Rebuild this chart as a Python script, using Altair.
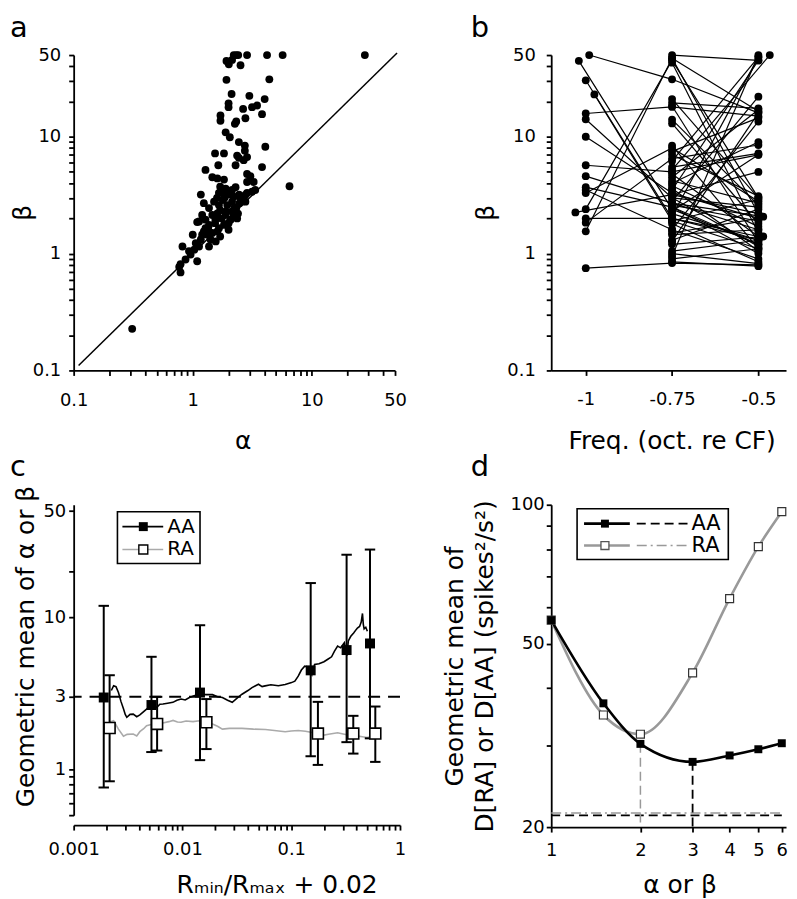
import altair as alt
import pandas as pd

FONT = "DejaVu Sans"
GRAY = "#999999"

# ---------------- Panel a : beta vs alpha ----------------
a_alpha = [0.31, 27.9, 6.5,
           2.21, 2.32, 2.41, 2.86, 4.21, 5.69, 1.92, 2.01, 2.14, 2.52,
           1.92, 4.4, 2.12, 2.99, 4.02, 2.0, 2.0, 2.65, 3.15, 3.47, 3.82, 1.71, 1.71, 2.32, 2.77, 2.26,
           1.89, 2.05, 2.44, 2.74, 2.74, 4.07, 1.54, 1.83, 2.36, 2.44, 2.86, 2.68, 1.64, 2.29, 3.82,
           1.28, 2.86, 3.05, 1.46, 1.61, 1.83, 2.86, 3.25, 2.29, 3.35, 2.86, 2.69, 1.17, 1.66, 1.83, 2.0,
           1.24, 1.37, 1.51, 1.66, 1.79, 1.95, 2.14, 2.32, 2.47, 1.46, 1.61, 1.75, 1.89, 2.08, 2.21,
           1.28, 1.2, 1.37, 1.54, 1.66, 1.83, 2.0, 1.13, 1.24, 1.33, 1.46, 1.41, 1.61, 1.17, 1.06,
           1.13, 1.0, 1.03, 0.93, 0.96, 0.87, 0.82, 0.79, 0.77, 0.79, 1.09, 1.09, 1.28, 2.14, 2.36,
           2.0, 1.7, 1.56, 1.2, 1.37, 2.77, 3.15, 2.77, 2.52, 1.89, 2.21, 1.7, 2.14,
           1.9, 2.25, 1.55, 1.7, 2.4, 1.35, 1.85, 1.6, 2.45]
a_beta = [0.227, 50, 3.77,
          50, 50, 50, 50, 50, 50, 44.5, 41.7, 45.4, 40.9,
          30.7, 31, 23.2, 22.4, 21.0, 19.3, 17.9, 17.3, 17.9, 18.5, 15.6, 15.2, 13.7, 13.5, 14.4, 12.9,
          10.9, 9.9, 9.0, 8.4, 7.6, 8.2, 7.2, 7.2, 6.9, 6.6, 6.7, 6.3, 5.7, 5.7, 5.5,
          5.2, 4.8, 4.6, 4.5, 4.4, 4.3, 4.1, 4.1, 3.7, 3.5, 3.3, 2.8, 3.2, 3.3, 3.4, 3.2,
          2.7, 2.45, 2.78, 2.6, 2.87, 2.6, 2.78, 2.45, 2.7, 2.14, 2.21, 2.0, 2.14, 1.95, 2.14,
          1.95, 2.14, 1.76, 1.82, 1.65, 1.76, 1.82, 1.88, 1.55, 1.45, 1.5, 1.32, 1.55, 1.32, 1.23,
          1.15, 1.45, 1.08, 1.05, 0.98, 0.89, 1.15, 0.81, 0.77, 0.69, 0.86, 1.86, 1.65, 2.29, 2.0,
          1.6, 1.4, 1.27, 1.45, 1.15, 3.17, 3.38, 2.78, 2.97, 3.6, 3.07, 3.73, 3.5,
          2.3, 2.5, 1.95, 2.35, 2.2, 1.6, 3.0, 3.0, 3.2]
a_diag = [0.11, 52.0]

# ---------------- Panel b : beta vs frequency ----------------
b_freqs = [-1.0, -0.75, -0.5]
b_neurons = [
    [50, 31, 16], [44.6, 2.4, 1.2], [30.4, 2.0, 1.4], [23, 1.9, 1.1], [15.8, 18, 15],
    [14.1, 3.0, 2.5], [10, 3.3, 2.0], [5.7, 5.0, 7.0], [4.6, 2.7, 1.6], [3.7, 2.5, 1.2],
    [3.5, 1.6, 0.9], [3.3, 8.0, 2.8], [2.4, 45, 3.0], [2.25, 3.2, 2.2], [2.0, 2.0, 1.3],
    [1.84, 6.5, 8.5], [1.55, 47, 2.2], [0.75, 0.83, 0.8],
    [None, 50, 45], [None, 47, 16.5], [None, 43, 1.5], [None, 21, 3.0], [None, 19.5, 17.5],
    [None, 18.3, 1.25], [None, 14, 2.6], [None, 13, 1.8], [None, 8.4, 1.1], [None, 7.5, 14.5],
    [None, 7, 3.1], [None, 6.2, 48], [None, 5.5, 7.2], [None, 5.2, 50], [None, 4.8, 1.4],
    [None, 4.5, 17], [None, 4.2, 2.7], [None, 4.0, 9], [None, 3.8, 1.7], [None, 3.5, 45],
    [None, 3.2, 5.0], [None, 3.0, 1.15], [None, 2.8, 22], [None, 2.7, 2.07], [None, 2.5, 1.0],
    [None, 2.3, 7.0], [None, 2.2, 1.3], [None, 2.1, 48], [None, 1.9, 2.9], [None, 1.8, 0.85],
    [None, 1.6, 13.5], [None, 1.45, 1.6], [None, 1.3, 2.4], [None, 1.27, 16], [None, 1.05, 1.3],
    [None, 1.0, 0.82], [None, 0.95, 50], [None, 0.9, 1.1], [None, 0.85, 0.78], [None, 1.5, 2.0],
    [None, 2.6, 1.9], [None, 3.6, 1.05], [None, 1.2, 1.4],
]
# small horizontal offsets of individual points (neuron index, position index, offset)
b_offsets = [(0, 0, 0.01), (1, 0, -0.02), (3, 0, 0.025), (13, 0, -0.03),
             (31, 2, 0.033), (41, 2, 0.014), (60, 2, 0.014)]

# ---------------- Panel c : geometric means vs Rmin/Rmax ----------------
c_aa_line_x = [0.00222, 0.00233, 0.00245, 0.00258, 0.00272, 0.00287, 0.00298, 0.00308, 0.0033, 0.00353,
               0.0038, 0.00406, 0.0044, 0.00468, 0.005, 0.00537, 0.0058, 0.0062, 0.00662, 0.0073,
               0.00817, 0.0089, 0.00972, 0.0106, 0.0116, 0.0128, 0.0143, 0.0165, 0.0189, 0.021,
               0.0233, 0.026, 0.0287, 0.032, 0.0353, 0.04, 0.0436, 0.047, 0.05, 0.054, 0.0576,
               0.065, 0.0762, 0.088, 0.1007, 0.108, 0.116, 0.124, 0.133, 0.145, 0.155, 0.164, 0.18,
               0.2, 0.217, 0.235, 0.25, 0.267, 0.285, 0.308, 0.325, 0.335, 0.353, 0.375, 0.395,
               0.406, 0.425, 0.44, 0.452, 0.46, 0.468, 0.485, 0.501]
c_aa_line_y = [3.3, 3.55, 3.5, 3.2, 2.8, 2.5, 2.3, 2.2, 2.3, 2.31,
               2.22, 2.28, 2.4, 2.49, 2.58, 2.62, 2.55, 2.68, 2.69, 2.72,
               2.76, 2.85, 2.9, 2.86, 2.97, 3.05, 3.12, 3.1, 3.1, 3.0,
               2.97, 2.85, 2.76, 2.95, 3.12, 3.3, 3.45, 3.55, 3.63, 3.5, 3.54,
               3.6, 3.55, 3.62, 3.72, 3.8, 4.1, 4.5, 4.77, 4.7, 4.2, 4.9, 4.95,
               5.1, 5.3, 5.5, 6.0, 6.46, 6.3, 6.8, 5.6, 7.0, 7.5, 7.9, 8.3,
               8.5, 8.7, 9.3, 10.6, 9.0, 8.4, 8.6, 8.1]
c_ra_line_x = [0.00215, 0.00233, 0.00258, 0.00287, 0.0031, 0.00353, 0.0038, 0.00406, 0.0044, 0.00468,
               0.00537, 0.0066, 0.0075, 0.0082, 0.009, 0.0097, 0.0108, 0.0125, 0.0143, 0.0165,
               0.0189, 0.021, 0.0233, 0.027, 0.0353, 0.045, 0.058, 0.07, 0.088, 0.1, 0.116,
               0.135, 0.16, 0.2, 0.22, 0.267, 0.3, 0.353, 0.4, 0.45, 0.5, 0.55]
c_ra_line_y = [2.05, 2.09, 1.84, 1.65, 1.7, 1.71, 1.66, 1.77, 1.85, 1.94,
               1.99, 2.02, 2.06, 2.1, 2.05, 2.04, 2.08, 2.06, 2.09, 2.03,
               1.99, 1.92, 1.84, 1.86, 1.86, 1.84, 1.83, 1.8, 1.77, 1.79, 1.8,
               1.78, 1.74, 1.68, 1.7, 1.74, 1.71, 1.67, 1.66, 1.64, 1.62, 1.65]
c_aa_x = [0.00189, 0.00519, 0.0145, 0.151, 0.323, 0.53]
c_aa_y = [2.97, 2.65, 3.2, 4.48, 6.09, 6.73]
c_aa_lo = [0.76, 1.30, 1.15, 1.22, 1.51, 1.6]
c_aa_hi = [11.9, 5.5, 8.87, 16.8, 25.8, 27.9]
c_ra_x = [0.00214, 0.00585, 0.0166, 0.176, 0.372, 0.593]
c_ra_y = [1.87, 1.99, 2.04, 1.72, 1.72, 1.72]
c_ra_lo = [0.835, 1.33, 1.36, 1.07, 1.27, 1.12]
c_ra_hi = [4.16, 3.0, 2.9, 2.78, 2.25, 2.59]
c_ref = 3.0
c_legend = ["AA", "RA"]

# ---------------- Panel d : geometric mean of D vs alpha/beta ----------------
d_x = [1, 1.5, 2, 3, 4, 5, 6]
d_aa = [56.2, 37.1, 30.3, 27.7, 28.6, 29.5, 30.4]
d_ra = [56.2, 35.0, 31.8, 43.2, 62.6, 81.1, 96.6]
d_min_ra_x, d_min_ra_top = 2, 30.3
d_min_aa_x, d_min_aa_top = 3, 27.7
d_floor_aa = 21.2
d_floor_ra = 21.45
d_floor_x = [1, 6]
d_legend = ["AA", "RA"]


def log_ticks(exps, last):
    out = [round(m * 10.0 ** e, 12) for e in exps for m in range(1, 10)]
    return out + last


def lbl_expr(vals, texts):
    parts = [f"datum.value == {v} ? '{t}'" for v, t in zip(vals, texts)]
    return " : ".join(parts) + " : ''"


def axis(values, lab_vals, lab_txt, title, tx, ty, pad, angle=0, **kw):
    return alt.Axis(values=values, labelExpr=lbl_expr(lab_vals, lab_txt), title=title,
                    titleX=tx, titleY=ty, titleAngle=angle, titleAlign="center",
                    titleBaseline="middle", labelPadding=pad, labelOverlap=False,
                    labelFlush=False, grid=False, **kw)


def qscale(domain, stype="log"):
    return alt.Scale(type=stype, domain=domain, nice=False, zero=False)


def letter(ch, x, y):
    return alt.Chart(alt.Data(values=[{}])).mark_text(
        text=ch, align="left", baseline="alphabetic", fontSize=29, font=FONT, color="black"
    ).encode(x=alt.value(x), y=alt.value(y))


one = alt.Data(values=[{}])

# ----- panel a -----
ab_ticks = log_ticks([-1, 0], [10, 20, 30, 40, 50])
ab_lv = [0.1, 1, 10, 50]
ab_lt = ["0.1", "1", "10", "50"]
ax_a_x = axis(ab_ticks, ab_lv, ab_lt, "α", 170, 70, 16)
ax_a_y = axis(ab_ticks, ab_lv, ab_lt, "β", -51, 158, 8, angle=270)
Xa = lambda f: alt.X(f, type="quantitative", scale=qscale([0.1, 50]), axis=ax_a_x)
Ya = lambda f: alt.Y(f, type="quantitative", scale=qscale([0.1, 50]), axis=ax_a_y)

df_a = pd.DataFrame({"x": a_alpha, "y": a_beta})
df_diag = pd.DataFrame({"x": a_diag, "y": a_diag})
pa = alt.layer(
    alt.Chart(df_diag).mark_line(color="black", strokeWidth=1.5).encode(x=Xa("x"), y=Ya("y")),
    alt.Chart(df_a).mark_circle(size=62, color="black", opacity=1).encode(x=Xa("x"), y=Ya("y")),
    letter("a", -64, -18),
).properties(width=323, height=317)

# ----- panel b -----
rows = []
for i, vals in enumerate(b_neurons):
    for j, v in enumerate(vals):
        if v is None:
            continue
        xv = b_freqs[j]
        for (ni, pj, off) in b_offsets:
            if ni == i and pj == j:
                xv += off
        rows.append({"n": i, "x": xv, "y": v})
df_b = pd.DataFrame(rows)
ax_b_x = axis([-1, -0.75, -0.5], [-1, -0.75, -0.5], ["-1", "-0.75", "-0.5"],
              "Freq. (oct. re CF)", 121, 70, 15)
ax_b_y = axis(ab_ticks, ab_lv, ab_lt, "β", -66, 158, 11, angle=270)
Xb = alt.X("x", type="quantitative", scale=qscale([-1.1, -0.42], "linear"), axis=ax_b_x)
Yb = alt.Y("y", type="quantitative", scale=qscale([0.1, 50]), axis=ax_b_y)
pb = alt.layer(
    alt.Chart(df_b).mark_line(color="black", strokeWidth=1.2).encode(
        x=Xb, y=Yb, detail="n:N", order="x:Q"),
    alt.Chart(df_b).mark_circle(size=62, color="black", opacity=1).encode(x=Xb, y=Yb),
    letter("b", -81, -18),
).properties(width=236, height=317)

# ----- panel c -----
c_xt = log_ticks([-3, -2, -1], [1])
c_yt = [0.5, 0.6, 0.7, 0.8, 0.9, 1, 3, 10, 20, 50]
ax_c_x = axis(c_xt, [0.001, 0.01, 0.1, 1], ["0.001", "0.01", "0.1", "1"],
              "Rₘᵢₙ/Rₘₐₓ + 0.02", 204, 60, 11, offset=10)
ax_c_y = axis(c_yt, [1, 3, 10, 50], ["1", "3", "10", "50"],
              "Geometric mean of α or β", -48, 142, 3, angle=270)
Xc = lambda f: alt.X(f, type="quantitative", scale=qscale([0.001, 1]), axis=ax_c_x)
Yc = lambda f: alt.Y(f, type="quantitative", scale=qscale([0.5, 55]), axis=ax_c_y)

df_c_aal = pd.DataFrame({"x": c_aa_line_x, "y": c_aa_line_y})
df_c_ral = pd.DataFrame({"x": c_ra_line_x, "y": c_ra_line_y})
df_c_aa = pd.DataFrame({"x": c_aa_x, "y": c_aa_y, "lo": c_aa_lo, "hi": c_aa_hi})
df_c_ra = pd.DataFrame({"x": c_ra_x, "y": c_ra_y, "lo": c_ra_lo, "hi": c_ra_hi})
df_c_ref = pd.DataFrame({"y": [c_ref]})
cap = "M -1 0 L 1 0"

pc = alt.layer(
    alt.Chart(df_c_ral).mark_line(color="#aaaaaa", strokeWidth=1.6).encode(x=Xc("x"), y=Yc("y")),
    alt.Chart(df_c_aal).mark_line(color="black", strokeWidth=1.6).encode(x=Xc("x"), y=Yc("y")),
    alt.Chart(df_c_ref).mark_rule(color="black", strokeWidth=2, strokeDash=[12, 8]).encode(y=Yc("y")),
    alt.Chart(df_c_aa).mark_rule(color="black", strokeWidth=2).encode(x=Xc("x"), y=Yc("lo"), y2="hi"),
    alt.Chart(df_c_aa).mark_point(shape=cap, size=110, color="black", strokeWidth=2, opacity=1).encode(x=Xc("x"), y=Yc("lo")),
    alt.Chart(df_c_aa).mark_point(shape=cap, size=110, color="black", strokeWidth=2, opacity=1).encode(x=Xc("x"), y=Yc("hi")),
    alt.Chart(df_c_ra).mark_rule(color="black", strokeWidth=2).encode(x=Xc("x"), y=Yc("lo"), y2="hi"),
    alt.Chart(df_c_ra).mark_point(shape=cap, size=110, color="black", strokeWidth=2, opacity=1).encode(x=Xc("x"), y=Yc("lo")),
    alt.Chart(df_c_ra).mark_point(shape=cap, size=110, color="black", strokeWidth=2, opacity=1).encode(x=Xc("x"), y=Yc("hi")),
    alt.Chart(df_c_aa).mark_square(size=100, color="black", opacity=1).encode(x=Xc("x"), y=Yc("y")),
    alt.Chart(df_c_ra).mark_square(size=121, fill="white", stroke="black", strokeWidth=1.6, opacity=1).encode(x=Xc("x"), y=Yc("y")),
    # legend
    alt.Chart(one).mark_rect(fill="white", stroke="black", strokeWidth=1.6).encode(
        x=alt.value(44), x2=alt.value(127), y=alt.value(7), y2=alt.value(59)),
    alt.Chart(one).mark_rule(color="black", strokeWidth=1.6).encode(x=alt.value(49), x2=alt.value(90), y=alt.value(22)),
    alt.Chart(one).mark_rule(color="#aaaaaa", strokeWidth=1.6).encode(x=alt.value(49), x2=alt.value(90), y=alt.value(45)),
    alt.Chart(one).mark_square(size=81, color="black", opacity=1).encode(x=alt.value(70), y=alt.value(22)),
    alt.Chart(one).mark_square(size=81, fill="white", stroke="black", strokeWidth=1.4, opacity=1).encode(x=alt.value(70), y=alt.value(45)),
    alt.Chart(one).mark_text(text=c_legend[0], align="left", baseline="middle", fontSize=20, font=FONT).encode(x=alt.value(94), y=alt.value(22)),
    alt.Chart(one).mark_text(text=c_legend[1], align="left", baseline="middle", fontSize=20, font=FONT).encode(x=alt.value(94), y=alt.value(45)),
    letter("c", -64, -29),
).properties(width=328, height=312)

# ----- panel d -----
d_xt = [1, 2, 3, 4, 5, 6]
d_yt = [20, 30, 40, 50, 60, 70, 80, 90, 100]
ax_d_x = axis(d_xt, d_xt, [str(v) for v in d_xt], "α  or β", 129, 58, 10)
ax_d_y = axis(d_yt, [20, 50, 100], ["20", "50", "100"],
              ["Geometric mean of", "D[RA] or D[AA] (spikes²/s²)"], -97, 162, 2, angle=270,
              titleLineHeight=30)
Xd = lambda f: alt.X(f, type="quantitative", scale=qscale([1, 6.2]), axis=ax_d_x)
Yd = lambda f: alt.Y(f, type="quantitative", scale=qscale([20, 100]), axis=ax_d_y)

df_d = pd.DataFrame({"x": d_x, "aa": d_aa, "ra": d_ra})
df_vra = pd.DataFrame({"x": [d_min_ra_x], "top": [d_min_ra_top], "bot": [20]})
df_vaa = pd.DataFrame({"x": [d_min_aa_x], "top": [d_min_aa_top], "bot": [20]})
df_faa = pd.DataFrame({"x": [d_floor_x[0]], "x2": [d_floor_x[1]], "y": [d_floor_aa]})
df_fra = pd.DataFrame({"x": [d_floor_x[0]], "x2": [d_floor_x[1]], "y": [d_floor_ra]})

pdd = alt.layer(
    alt.Chart(df_fra).mark_rule(color=GRAY, strokeWidth=1.5, strokeDash=[10, 4, 2, 4]).encode(x=Xd("x"), x2="x2", y=Yd("y")),
    alt.Chart(df_faa).mark_rule(color="black", strokeWidth=1.8, strokeDash=[9, 5]).encode(x=Xd("x"), x2="x2", y=Yd("y")),
    alt.Chart(df_vra).mark_rule(color=GRAY, strokeWidth=1.5, strokeDash=[9, 5]).encode(x=Xd("x"), y=Yd("top"), y2="bot"),
    alt.Chart(df_vaa).mark_rule(color="black", strokeWidth=1.8, strokeDash=[9, 5]).encode(x=Xd("x"), y=Yd("top"), y2="bot"),
    alt.Chart(df_d).mark_line(color=GRAY, strokeWidth=2.6, interpolate="monotone").encode(x=Xd("x"), y=Yd("ra")),
    alt.Chart(df_d).mark_line(color="black", strokeWidth=2.6, interpolate="monotone").encode(x=Xd("x"), y=Yd("aa")),
    alt.Chart(df_d).mark_square(size=64, fill="white", stroke="#333333", strokeWidth=1.2, opacity=1).encode(x=Xd("x"), y=Yd("ra")),
    alt.Chart(df_d).mark_square(size=64, color="black", opacity=1).encode(x=Xd("x"), y=Yd("aa")),
    # legend
    alt.Chart(one).mark_rect(fill="white", stroke="black", strokeWidth=1.6).encode(
        x=alt.value(26), x2=alt.value(178), y=alt.value(4), y2=alt.value(55)),
    alt.Chart(one).mark_rule(color="black", strokeWidth=2.6).encode(x=alt.value(33), x2=alt.value(79), y=alt.value(19)),
    alt.Chart(one).mark_rule(color=GRAY, strokeWidth=2.6).encode(x=alt.value(33), x2=alt.value(79), y=alt.value(41)),
    alt.Chart(one).mark_rule(color="black", strokeWidth=1.6, strokeDash=[9, 5]).encode(x=alt.value(86), x2=alt.value(139), y=alt.value(19)),
    alt.Chart(one).mark_rule(color=GRAY, strokeWidth=1.6, strokeDash=[10, 4, 2, 4]).encode(x=alt.value(86), x2=alt.value(139), y=alt.value(41)),
    alt.Chart(one).mark_square(size=64, color="black", opacity=1).encode(x=alt.value(54), y=alt.value(19)),
    alt.Chart(one).mark_square(size=64, fill="white", stroke="#555555", strokeWidth=1.3, opacity=1).encode(x=alt.value(54), y=alt.value(41)),
    alt.Chart(one).mark_text(text=d_legend[0], align="left", baseline="middle", fontSize=21, font=FONT).encode(x=alt.value(141), y=alt.value(19)),
    alt.Chart(one).mark_text(text=d_legend[1], align="left", baseline="middle", fontSize=21, font=FONT).encode(x=alt.value(141), y=alt.value(41)),
    letter("d", -81, -29),
).properties(width=236, height=324)

chart = alt.concat(
    pa, pb, pc, pdd, columns=2, spacing={"row": 128, "column": 152},
    bounds="flush", align="all"
).properties(padding={"top": 4, "left": 2, "right": 0, "bottom": 0}).configure_axis(
    labelFont=FONT, labelFontSize=18, labelColor="black",
    titleFont=FONT, titleFontSize=25, titleFontWeight="normal", titleColor="black",
    domainColor="black", domainWidth=1.8, tickColor="black", tickWidth=1.8, tickSize=5,
    grid=False
).configure_view(strokeOpacity=0)

chart.save("out.html", embed_options={"renderer": "svg", "actions": False})
